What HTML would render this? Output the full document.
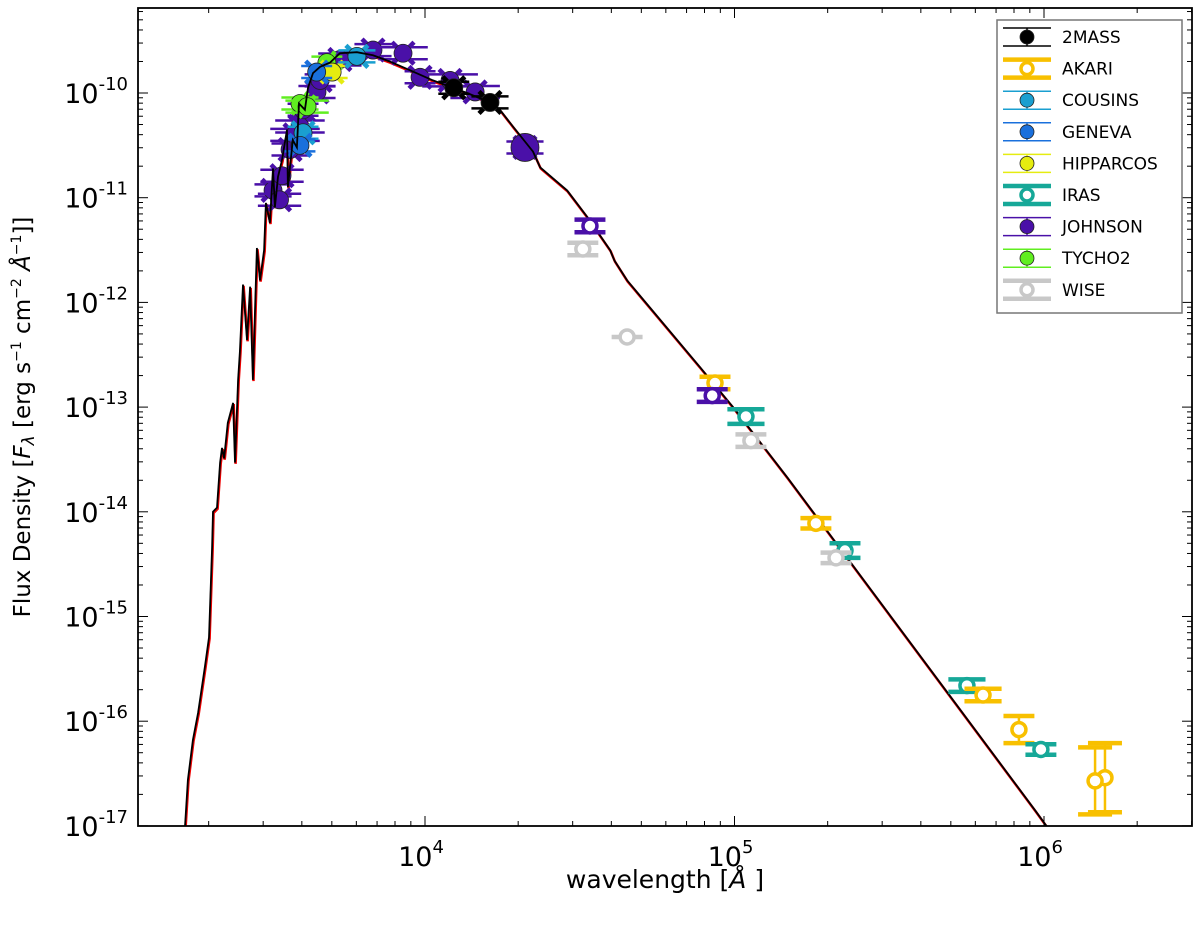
<!DOCTYPE html>
<html><head><meta charset="utf-8">
<style>
body{margin:0;background:#fff;width:1200px;height:927px;overflow:hidden;font-family:"Liberation Sans","DejaVu Sans",sans-serif}
svg text{font-family:"DejaVu Sans","Liberation Sans",sans-serif}
</style></head>
<body>
<svg id="chart" width="1200" height="927" xmlns="http://www.w3.org/2000/svg">
<g id="plot"></g>
<g id="axes"></g>
<text x="665" y="888" font-size="25" text-anchor="middle">wavelength [<tspan font-style="italic">Å</tspan> ]</text>
<text transform="translate(30,417) rotate(-90)" font-size="23" text-anchor="middle">Flux Density [<tspan font-style="italic">F</tspan><tspan font-style="italic" font-size="17" dy="4">λ</tspan><tspan dy="-4"> [erg  s</tspan><tspan font-size="14" dy="-9">−1</tspan><tspan dy="9"> cm</tspan><tspan font-size="14" dy="-9">−2</tspan><tspan dy="9"> </tspan><tspan font-style="italic">Å</tspan><tspan font-size="14" dy="-9">−1</tspan><tspan dy="9">]]</tspan></text>
<g id="legend"></g>
</svg>
<script>
// ---- data (log10 wavelength [Å], log10 flux) ----
const modelLogLam = [3.218,3.225,3.234,3.250,3.267,3.289,3.302,3.312,3.315,3.328,3.338,3.344,3.351,3.363,3.380,3.386,3.396,3.402,3.412,3.425,3.435,3.444,3.457,3.467,3.480,3.486,3.499,3.509,3.515,3.525,3.538,3.554,3.557,3.573,3.586,3.593,3.612,3.622,3.638,3.661,3.693,3.725,3.780,3.832,3.887,3.942,4.026,4.136,4.210,4.242,4.284,4.349,4.372,4.459,4.523,4.598,4.612,4.653,4.889,4.995,5.170,5.971,6.020];
const modelLogF = [-17.10,-16.99,-16.56,-16.18,-15.92,-15.48,-15.20,-14.34,-14.00,-13.96,-13.53,-13.39,-13.49,-13.15,-12.96,-13.53,-12.74,-12.47,-11.83,-12.36,-11.85,-12.74,-11.48,-11.79,-11.50,-11.05,-11.24,-10.72,-11.09,-10.80,-10.64,-10.35,-10.90,-10.45,-10.52,-10.10,-10.16,-9.95,-9.81,-9.75,-9.71,-9.62,-9.61,-9.64,-9.70,-9.77,-9.88,-10.00,-10.09,-10.16,-10.32,-10.56,-10.71,-10.93,-11.18,-11.50,-11.60,-11.79,-12.62,-13.00,-13.67,-16.85,-17.05];

// open-marker photometry
const openSurvey = ["JOHNSON","WISE","WISE","AKARI","JOHNSON","IRAS","WISE","AKARI","IRAS","WISE","IRAS","AKARI","AKARI","IRAS","AKARI","AKARI"];
const openLogLam = [4.533,4.510,4.653,4.937,4.928,5.037,5.053,5.263,5.357,5.328,5.751,5.803,5.919,5.990,6.197,6.165];
const openLogF   = [-11.27,-11.49,-12.33,-12.77,-12.89,-13.09,-13.32,-14.11,-14.37,-14.44,-15.66,-15.75,-16.08,-16.27,-16.54,-16.57];
const openYerr   = [0.06,0.06,0.0,0.06,0.06,0.07,0.06,0.05,0.07,0.05,0.06,0.06,0.13,0.05,0.33,0.32];
const openXerr   = [0.05,0.05,0.05,0.05,0.05,0.06,0.05,0.05,0.05,0.05,0.06,0.06,0.05,0.05,0.05,0.05];

// filled-marker photometry
const fillSurvey = ["JOHNSON","JOHNSON","JOHNSON","JOHNSON","JOHNSON","JOHNSON","JOHNSON","JOHNSON","JOHNSON","JOHNSON","JOHNSON","JOHNSON","JOHNSON","JOHNSON","JOHNSON","TYCHO2","TYCHO2","TYCHO2","HIPPARCOS","COUSINS","GENEVA","GENEVA","COUSINS","2MASS","2MASS","JOHNSON"];
const fillLogLam = [3.509,3.538,3.564,3.596,3.606,3.651,3.661,3.725,3.832,3.929,3.984,4.081,4.162,3.530,3.580,3.596,3.683,3.619,3.700,3.606,3.596,3.650,3.780,4.093,4.210,4.323];
const fillLogF   = [-10.93,-10.79,-10.54,-10.32,-10.16,-9.99,-9.88,-9.68,-9.59,-9.62,-9.85,-9.88,-9.99,-11.02,-10.40,-10.10,-9.71,-10.13,-9.80,-10.38,-10.50,-9.80,-9.65,-9.95,-10.09,-10.52];
const fillXerr   = [0.06,0.07,0.06,0.08,0.05,0.06,0.05,0.07,0.06,0.08,0.05,0.09,0.08,0.07,0.08,0.06,0.05,0.07,0.05,0.05,0.05,0.05,0.06,0.05,0.06,0.06];

const legendNames = ["2MASS","AKARI","COUSINS","GENEVA","HIPPARCOS","IRAS","JOHNSON","TYCHO2","WISE"];
const xTicks = [4,5,6];
const yTicks = [-10,-11,-12,-13,-14,-15,-16,-17];

const colors = {"2MASS":"#000","AKARI":"#f8c000","COUSINS":"#1a9fd0","GENEVA":"#1a70dc","HIPPARCOS":"#e5ec10","IRAS":"#16a898","JOHNSON":"#4a10a8","TYCHO2":"#60ee20","WISE":"#c8c8c8"};
const openSet = {"AKARI":1,"IRAS":1,"WISE":1};

const L=138,R=1192,T=8,B=826;
const X = v => 425 + 309.5*(v-4);
const Y = v => 93 + 104.7*(-10 - v);
const NS="http://www.w3.org/2000/svg";
function mk(tag, attrs, parent){const e=document.createElementNS(NS,tag);for(const k in attrs)e.setAttribute(k,attrs[k]);parent.appendChild(e);return e;}
const plot=document.getElementById('plot'), axes=document.getElementById('axes'), leg=document.getElementById('legend');

const cp=mk('clipPath',{id:'clip'},plot);
mk('rect',{x:L,y:T,width:R-L,height:B-T},cp);
const g=mk('g',{'clip-path':'url(#clip)'},plot);

const pts=modelLogLam.map((v,i)=>X(v).toFixed(1)+','+Y(modelLogF[i]).toFixed(1)).join(' ');
const red=mk('polyline',{points:pts,fill:'none',stroke:'#e00','stroke-width':2.5,transform:'translate(0.6,1.2)'},g);



fillSurvey.forEach((s,i)=>{
  const cx=X(fillLogLam[i]), cy=Y(fillLogF[i]), w=309.5*fillXerr[i], c=colors[s];
  const big = (s==="JOHNSON" && fillLogLam[i]>4.3);
  const pg=mk('g',{},g);
  
  
  mk('line',{x1:cx-w,x2:cx+w,y1:cy-6,y2:cy-6,stroke:c,'stroke-width':2.5},pg);
  mk('line',{x1:cx-w,x2:cx+w,y1:cy+6,y2:cy+6,stroke:c,'stroke-width':2.5},pg);
  if(s!=="TYCHO2"){
    mk('line',{x1:cx-11,y1:cy-11,x2:cx+11,y2:cy+11,stroke:c,'stroke-width':4.5},pg);
    mk('line',{x1:cx-11,y1:cy+11,x2:cx+11,y2:cy-11,stroke:c,'stroke-width':4.5},pg);
  } else {
    mk('line',{x1:cx-8,y1:cy+11,x2:cx+8,y2:cy-11,stroke:c,'stroke-width':4.5},pg);
  }
  mk('circle',{cx:cx,cy:cy,r:big?14:9,fill:c,stroke:'#222','stroke-width':0.8},pg);
});

const black=mk('polyline',{points:pts,fill:'none',stroke:'#000','stroke-width':1.8},g);



openSurvey.forEach((s,i)=>{
  const cx=X(openLogLam[i]), cy=Y(openLogF[i]), c=colors[s];
  const w=309.5*openXerr[i];
  const up=Y(openLogF[i]+openYerr[i]), dn=Y(openLogF[i]-openYerr[i]);
  const pg=mk('g',{},g);
  
  
  if(openYerr[i]>0){
    const cw = openYerr[i]>0.2 ? 17 : w;
    mk('line',{x1:cx,x2:cx,y1:up,y2:dn,stroke:c,'stroke-width':2.5},pg);
    mk('line',{x1:cx-cw,x2:cx+cw,y1:up,y2:up,stroke:c,'stroke-width':4.5},pg);
    mk('line',{x1:cx-cw,x2:cx+cw,y1:dn,y2:dn,stroke:c,'stroke-width':4.5},pg);
  } else {
    mk('line',{x1:cx-w,x2:cx+w,y1:cy,y2:cy,stroke:c,'stroke-width':4.5},pg);
  }
  mk('circle',{cx:cx,cy:cy,r:7,fill:'#fff',stroke:c,'stroke-width':3.5},pg);
});

const fr=mk('rect',{x:L,y:T,width:R-L,height:B-T,fill:'none',stroke:'#000','stroke-width':1.8},axes);


for(let d=3;d<=6;d++){for(let m=1;m<10;m++){const v=d+Math.log10(m);const x=X(v);if(x<L||x>R)continue;
  const len=m===1?10:5;
  mk('line',{x1:x,x2:x,y1:B,y2:B-len,stroke:'#000','stroke-width':1},axes);
  mk('line',{x1:x,x2:x,y1:T,y2:T+len,stroke:'#000','stroke-width':1},axes);}}
xTicks.forEach(v=>{const t=mk('text',{x:X(v)-4,y:866,'font-size':27,'text-anchor':'middle'},axes);
  
  
  t.innerHTML='10<tspan font-size="18" dy="-13">'+v+'</tspan>';});
for(let d=-18;d<=-9;d++){for(let m=1;m<10;m++){const v=d+Math.log10(m);const y=Y(v);if(y<T||y>B)continue;
  const len=m===1?10:5;
  mk('line',{x1:L,x2:L+len,y1:y,y2:y,stroke:'#000','stroke-width':1},axes);
  mk('line',{x1:R,x2:R-len,y1:y,y2:y,stroke:'#000','stroke-width':1},axes);}}
yTicks.forEach(v=>{const t=mk('text',{x:128,y:Y(v)+10,'font-size':27,'text-anchor':'end'},axes);
  
  
  t.innerHTML='10<tspan font-size="18" dy="-13">'+v+'</tspan>';});

const lb=mk('rect',{x:997,y:20,width:185,height:293,fill:'#fff',stroke:'#777','stroke-width':1.5},leg);


legendNames.forEach((n,i)=>{
  const cy=37+i*31.6, c=colors[n], eg=mk('g',{},leg);
  
  
  const open=openSet[n], sw=open?4.5:1.5;
  mk('line',{x1:1003,x2:1051,y1:cy-9,y2:cy-9,stroke:c,'stroke-width':sw},eg);
  mk('line',{x1:1003,x2:1051,y1:cy+9,y2:cy+9,stroke:c,'stroke-width':sw},eg);
  mk('line',{x1:1027,x2:1027,y1:cy-9,y2:cy+9,stroke:c,'stroke-width':open?2.5:1.5},eg);
  if(open) mk('circle',{cx:1027,cy:cy,r:6,fill:'#fff',stroke:c,'stroke-width':3.5},eg);
  else mk('circle',{cx:1027,cy:cy,r:7,fill:c,stroke:'#222','stroke-width':0.8},eg);
  const t=mk('text',{x:1062,y:cy+6,'font-size':17},eg); t.textContent=n;
});
</script>
</body></html>
